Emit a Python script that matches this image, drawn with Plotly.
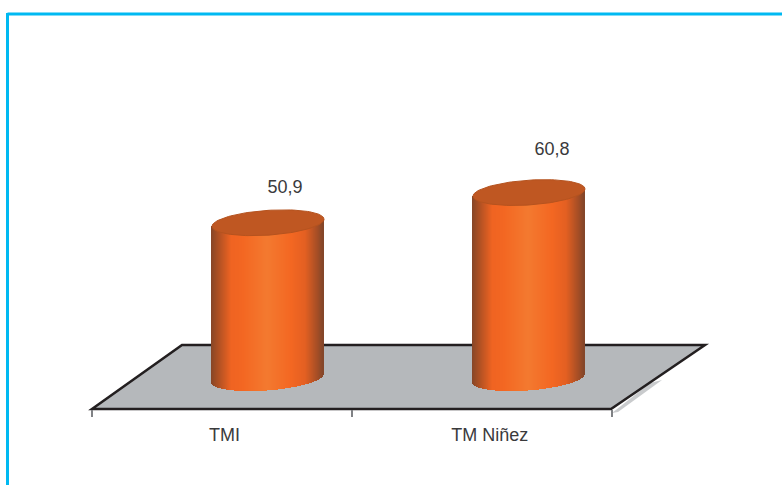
import numpy as np
import plotly.graph_objects as go

categories = ["TMI", "TM Niñez"]
values = [50.9, 60.8]
value_labels = ["50,9", "60,8"]

W, H = 782, 485
PL, PR, PT, PB = 92, 612, 30, 409      # plot rectangle in px
BASE_PX = 378                          # pixel height of value 0 (cylinder base centre)
K = 3.05                               # px per value unit
XU = (PR - PL) / 2                     # px per category
Y0 = -(409 - BASE_PX) / K
Y1 = (BASE_PX - PT) / K

A, B = 56 / XU, 12.4 / K               # ellipse semi-axes, in axis units
S_TOP, S_BASE = 3.6 / K, 4.2 / K       # ellipse tilt at the cap and at the base
DX = [46 / XU, 47 / XU]                # depth shift of the cylinders on the 3D floor

def px(x):
    return (x - PL) / (PR - PL)

def py(y):
    return (PB - y) / (PB - PT)

stops = [(0, (134, 70, 40)), (0.05, (165, 78, 36)), (0.18, (240, 100, 34)), (0.28, (243, 103, 34)),
         (0.5, (244, 122, 48)), (0.72, (243, 103, 34)), (0.84, (228, 96, 34)), (0.95, (165, 78, 38)), (1, (130, 70, 42))]

def shade(u):
    ts = [s[0] for s in stops]
    return "rgb(%d,%d,%d)" % tuple(np.interp(u, ts, [s[1][i] for s in stops]) for i in range(3))

FONT = "Liberation Sans"
TXT = "#3a3a3c"

fig = go.Figure()
n = 112
for i, v in enumerate(values):
    cx = i + DX[i]
    u = (np.arange(n) + 0.5) / n
    xs = cx - A + 2 * A * u
    c = 2 * u - 1
    lower = -B * np.sqrt(1 - c ** 2) + S_BASE * c
    upper = v + S_TOP * c
    fig.add_trace(go.Bar(x=xs, y=upper - lower, base=lower, width=2 * A / n * 1.25,
                         marker=dict(color=[shade(t) for t in u], line=dict(width=0)),
                         hoverinfo="skip", showlegend=False))
    t = np.linspace(0, 2 * np.pi, 121)
    fig.add_trace(go.Scatter(x=cx + A * np.cos(t), y=v + B * np.sin(t) + S_TOP * np.cos(t),
                             mode="lines", fill="toself", fillcolor="#bf5722",
                             line=dict(color="#b5531f", width=1), hoverinfo="skip", showlegend=False))

label_dx = [17 / XU, 23 / XU]
label_dy = [34 / K, 42 / K]
fig.add_trace(go.Scatter(x=[i + DX[i] + d for i, d in enumerate(label_dx)],
                         y=[v + d for v, d in zip(values, label_dy)],
                         mode="text", text=value_labels, textposition="middle center",
                         textfont=dict(family=FONT, size=18, color=TXT),
                         cliponaxis=False, hoverinfo="skip", showlegend=False))

floor = "M %f %f L %f %f L %f %f L %f %f Z" % (px(92), py(409), px(611), py(409), px(705), py(345), px(182), py(345))
shadow = "M %f %f L %f %f L %f %f L %f %f Z" % (px(612), py(413), px(618), py(412), px(662), py(380), px(650), py(383))
shapes = [
    dict(type="path", path=shadow, xref="paper", yref="paper", fillcolor="#c9cbcd", line=dict(width=0), layer="below"),
    dict(type="path", path=floor, xref="paper", yref="paper", fillcolor="#b5b8bb",
         line=dict(color="#231f20", width=2.5), layer="below"),
    dict(type="line", xref="paper", yref="paper", x0=px(7.5), x1=px(782), y0=py(14), y1=py(14),
         line=dict(color="#00b9f2", width=3)),
    dict(type="line", xref="paper", yref="paper", x0=px(7.5), x1=px(7.5), y0=py(13), y1=py(485),
         line=dict(color="#00b9f2", width=3)),
]

fig.update_layout(
    width=W, height=H, margin=dict(l=PL, r=W - PR, t=PT, b=H - PB, pad=0, autoexpand=False),
    paper_bgcolor="white", plot_bgcolor="rgba(0,0,0,0)", barmode="overlay", bargap=0,
    shapes=shapes, showlegend=False,
    xaxis=dict(range=[-0.5, 1.5], tickmode="array", tickvals=[0.01, 1.03], ticktext=categories, ticks="",
               showgrid=False, zeroline=False, showline=True, linecolor="#231f20", linewidth=1,
               ticklabelstandoff=9, tickfont=dict(family=FONT, size=18, color=TXT),
               minor=dict(tickmode="array", tickvals=[-0.5, 0.5, 1.5], ticks="outside", ticklen=7,
                          tickwidth=2, tickcolor="#808285", showgrid=False)),
    yaxis=dict(range=[Y0, Y1], visible=False, showgrid=False, zeroline=False),
)
fig.write_html("out.html", config=dict(displayModeBar=False), post_script="document.body.style.margin='0';")
